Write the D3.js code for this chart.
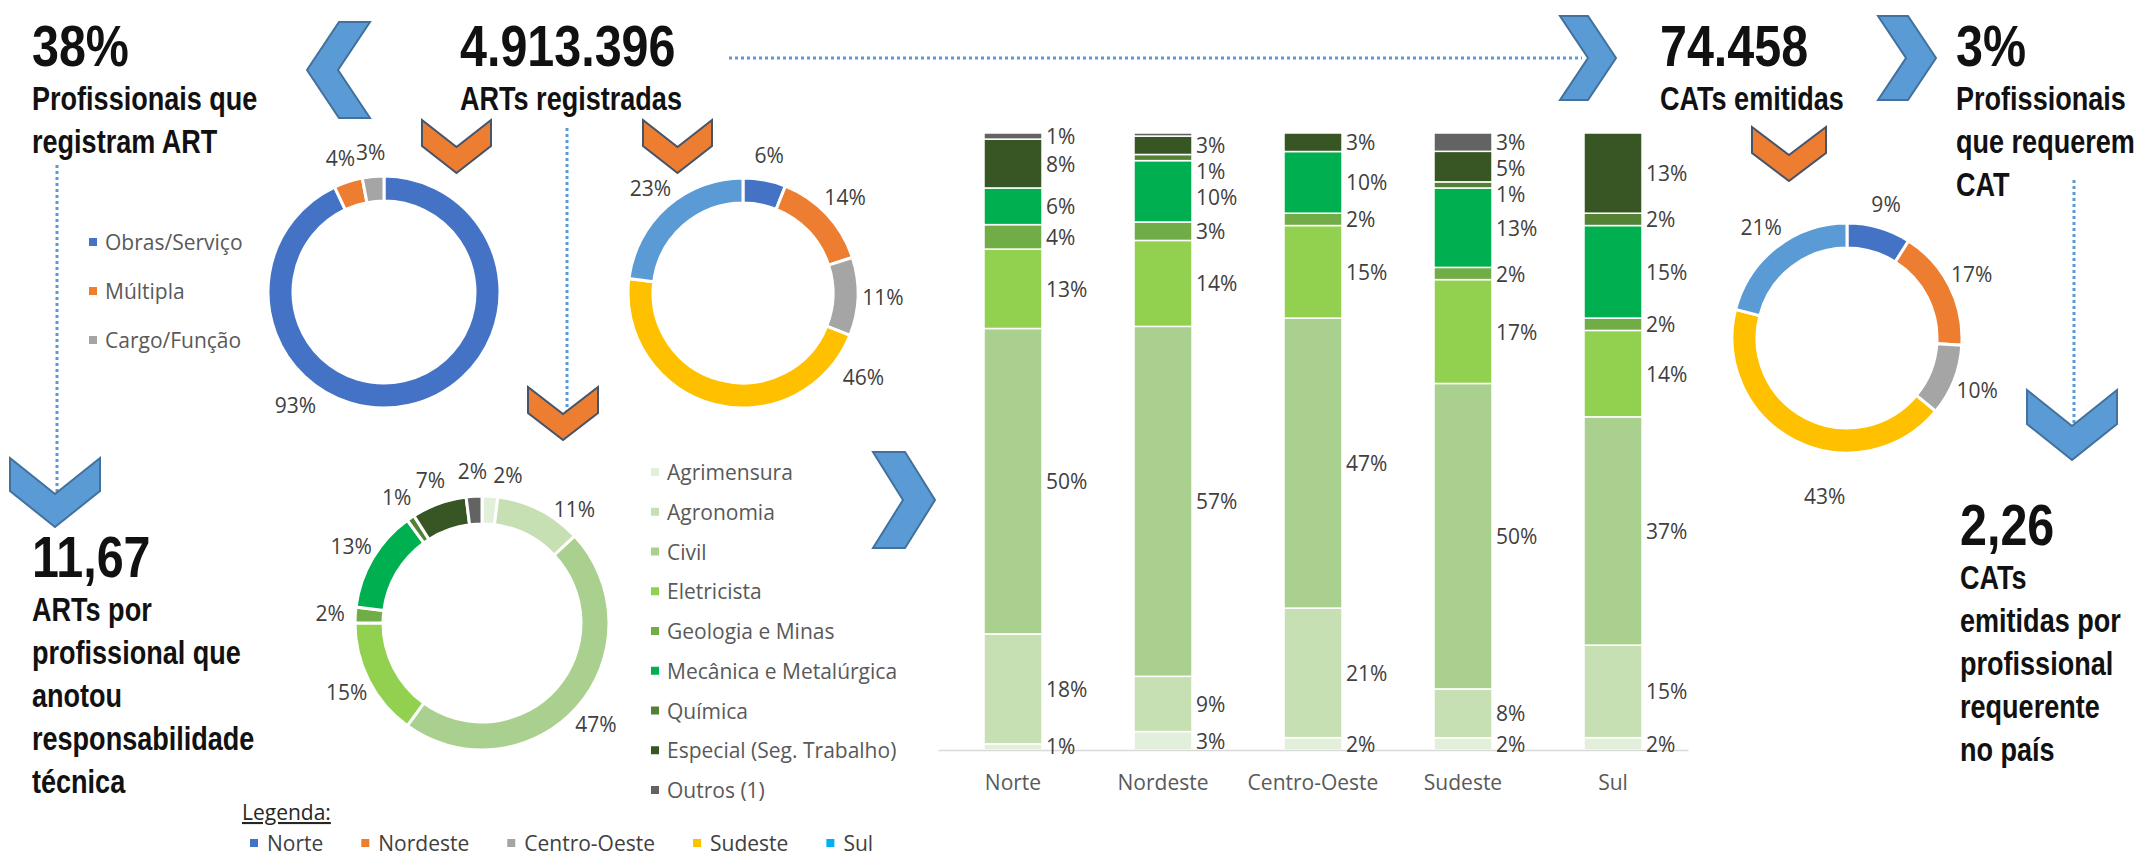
<!DOCTYPE html>
<html>
<head>
<meta charset="utf-8">
<script src="https://cdn.jsdelivr.net/npm/d3@7"></script>
<style>
  body { margin: 0; background: #fff; }
  svg { display: block; }
  .big { font-family: "Liberation Sans", Arial, sans-serif; font-weight: bold; fill: #111; }
  .lbl { font-family: "Open Sans", sans-serif; fill: #404040; }
</style>
</head>
<body>
<svg id="chart" width="2145" height="858"></svg>
<script>
// ---- data ----
const regions = ['Norte', 'Nordeste', 'Centro-Oeste', 'Sudeste', 'Sul'];
const regionColors = ['#4472C4', '#ED7D31', '#A5A5A5', '#FFC000', '#5B9BD5'];
const legendRegionColors = ['#4472C4', '#ED7D31', '#A5A5A5', '#FFC000', '#00B0F0'];

const artTypes = ['Obras/Serviço', 'Múltipla', 'Cargo/Função'];
const artTypeColors = ['#4472C4', '#ED7D31', '#A5A5A5'];
const artTypeShare = [93, 4, 3];

const artByRegion = [6, 14, 11, 46, 23];
const catByRegion = [9, 17, 10, 43, 21];

const areas = ['Agrimensura', 'Agronomia', 'Civil', 'Eletricista', 'Geologia e Minas',
  'Mecânica e Metalúrgica', 'Química', 'Especial (Seg. Trabalho)', 'Outros (1)'];
const areaColors = ['#E2EFDA', '#C6E0B4', '#A9D08E', '#92D050', '#70AD47',
  '#00B050', '#548235', '#375623', '#636363'];
const artByArea = [2, 11, 47, 15, 2, 13, 1, 7, 2];

const areaNorte = [1, 18, 50, 13, 4, 6, 0, 8, 1];
const areaNordeste = [3, 9, 57, 14, 3, 10, 1, 3, 0.5];
const areaCentroOeste = [2, 21, 47, 15, 2, 10, 0, 3, 0];
const areaSudeste = [2, 8, 50, 17, 2, 13, 1, 5, 3];
const areaSul = [2, 15, 37, 14, 2, 15, 2, 13, 0];

const headline = [
  { x: 32, y: 66, big: '38%', lines: ['Profissionais que', 'registram ART'] },
  { x: 460, y: 66, big: '4.913.396', lines: ['ARTs registradas'] },
  { x: 1660, y: 66, big: '74.458', lines: ['CATs emitidas'] },
  { x: 1956, y: 66, big: '3%', lines: ['Profissionais', 'que requerem', 'CAT'] },
  { x: 32, y: 577, big: '11,67', lines: ['ARTs por', 'profissional que', 'anotou', 'responsabilidade', 'técnica'] },
  { x: 1960, y: 545, big: '2,26', lines: ['CATs', 'emitidas por', 'profissional', 'requerente', 'no país'] }
];

const svg = d3.select('#chart');
svg.append('rect').attr('width', 2145).attr('height', 858).attr('fill', '#fff');

// ---- dotted connectors ----
const dotted = [[729, 58, 1582, 58], [57, 165, 57, 495], [567, 128, 567, 420], [2074, 180, 2074, 432]];
svg.selectAll('.dots').data(dotted).join('line')
  .attr('x1', d => d[0]).attr('y1', d => d[1]).attr('x2', d => d[2]).attr('y2', d => d[3])
  .attr('stroke', '#5B9BD5').attr('stroke-width', 3).attr('stroke-dasharray', '3 3');

// ---- chevrons ----
function chevron(x0, y0, x1, y1, dir, d) {
  const xm = (x0 + x1) / 2, ym = (y0 + y1) / 2;
  let p;
  if (dir == 'right') p = [[x0, y0], [x1 - d, y0], [x1, ym], [x1 - d, y1], [x0, y1], [x0 + d, ym]];
  else if (dir == 'left') p = [[x1, y0], [x0 + d, y0], [x0, ym], [x0 + d, y1], [x1, y1], [x1 - d, ym]];
  else p = [[x0, y0], [xm, y0 + d], [x1, y0], [x1, y1 - d], [xm, y1], [x0, y1 - d]];
  return 'M' + p.map(q => q.join(',')).join('L') + 'Z';
}
const chevrons = [
  [307, 22, 370, 118, 'left', 32, '#5B9BD5'],
  [1560, 16, 1616, 100, 'right', 28, '#5B9BD5'],
  [1878, 16, 1936, 100, 'right', 28, '#5B9BD5'],
  [873, 452, 935, 548, 'right', 30, '#5B9BD5'],
  [10, 458, 100, 527, 'down', 36, '#5B9BD5'],
  [2027, 390, 2117, 460, 'down', 36, '#5B9BD5'],
  [422, 120, 491, 173, 'down', 27, '#ED7D31'],
  [643, 120, 712, 173, 'down', 27, '#ED7D31'],
  [528, 387, 598, 440, 'down', 27, '#ED7D31'],
  [1752, 127, 1826, 181, 'down', 28, '#ED7D31']
];
svg.selectAll('.chev').data(chevrons).join('path')
  .attr('d', c => chevron(c[0], c[1], c[2], c[3], c[4], c[5]))
  .attr('fill', c => c[6])
  .attr('stroke', c => c[6] == '#ED7D31' ? '#44546A' : '#41719C')
  .attr('stroke-width', 2);

// ---- headline texts (condensed by squeezing horizontally) ----
headline.forEach(h => {
  svg.append('text').attr('class', 'big')
    .attr('transform', `translate(${h.x},${h.y}) scale(0.85,1)`)
    .style('font-size', '57px').text(h.big);
  h.lines.forEach((t, i) => {
    svg.append('text').attr('class', 'big')
      .attr('transform', `translate(${h.x},${h.y + 44 + i * 43}) scale(0.82,1)`)
      .style('font-size', '33px').text(t);
  });
});

// ---- donuts ----
function drawDonut(cx, cy, r, thick, values, colors, labelMove) {
  const g = svg.append('g').attr('transform', `translate(${cx},${cy})`);
  const pie = d3.pie().sort(null).value(d => d);
  const arcs = pie(values);
  const arc = d3.arc().innerRadius(r - thick).outerRadius(r);
  g.selectAll('path').data(arcs).join('path')
    .attr('d', arc)
    .attr('fill', (d, i) => colors[i])
    .attr('stroke', '#fff').attr('stroke-width', 3);
  g.selectAll('text').data(arcs).join('text')
    .attr('class', 'lbl')
    .style('font-size', '21px')
    .attr('text-anchor', 'middle').attr('dominant-baseline', 'central')
    .attr('transform', (d, i) => {
      let a = (d.startAngle + d.endAngle) / 2, lr = r + 25;
      if (labelMove[i]) { a = labelMove[i][0] * Math.PI / 180; lr = r + labelMove[i][1]; }
      return `translate(${Math.sin(a) * lr},${-Math.cos(a) * lr})`;
    })
    .text(d => d.data + '%');
}
drawDonut(384, 292, 116, 25, artTypeShare, artTypeColors, { 0: [218, 28] });
drawDonut(743, 293, 115, 25, artByRegion, regionColors, { 3: [125, 32] });
drawDonut(482, 623, 127, 28, artByArea, areaColors, { 0: [10, 23], 1: [39, 20] });
drawDonut(1847, 338, 115, 25, catByRegion, regionColors, { 3: [188, 45] });

// ---- small legends ----
function legendColumn(x, y0, step, names, colors) {
  const g = svg.append('g');
  names.forEach((n, i) => {
    g.append('rect').attr('x', x).attr('y', y0 + i * step - 4).attr('width', 8).attr('height', 8)
      .attr('fill', colors[i]);
    g.append('text').attr('class', 'lbl').attr('x', x + 16).attr('y', y0 + i * step)
      .attr('dominant-baseline', 'central').style('font-size', '21px').style('fill', '#595959').text(n);
  });
}
legendColumn(89, 242, 49, artTypes, artTypeColors);
legendColumn(651, 472, 39.75, areas, areaColors);

// ---- stacked bars by region ----
const areaByRegion = [areaNorte, areaNordeste, areaCentroOeste, areaSudeste, areaSul];
const table = regions.map((r, i) => {
  const row = { region: r };
  areas.forEach((a, j) => row[a] = areaByRegion[i][j]);
  return row;
});
const stack = d3.stack().keys(areas).offset(d3.stackOffsetExpand);
const series = stack(table);

const x = d3.scaleBand().domain(regions).range([938, 1688]).padding(0);
const y = d3.scaleLinear().domain([0, 1]).range([750, 133]);
const barW = 58;
const barOff = (x.bandwidth() - barW) / 2;

const gBars = svg.append('g');
gBars.selectAll('g').data(series).join('g')
  .attr('fill', (s, i) => areaColors[i])
  .selectAll('rect').data(s => s).join('rect')
  .attr('x', d => x(d.data.region) + barOff)
  .attr('width', barW)
  .attr('y', d => y(d[1]))
  .attr('height', d => y(d[0]) - y(d[1]))
  .attr('stroke', '#fff').attr('stroke-width', 1.5);

const gx = svg.append('g').attr('transform', 'translate(0,750)')
  .call(d3.axisBottom(x).tickSize(0).tickPadding(25));
gx.select('.domain').attr('stroke', '#D9D9D9').attr('stroke-width', 1.5);
gx.selectAll('text').attr('class', 'lbl').style('font-size', '21px').style('fill', '#595959');

// bar labels: segment centres, pushed apart where they collide
regions.forEach((r, ri) => {
  let labs = [];
  series.forEach((s, si) => {
    const v = areaByRegion[ri][si];
    if (v < 0.75) return;
    const d = s[ri];
    labs.push({ text: Math.round(v) + '%', y: (y(d[0]) + y(d[1])) / 2 });
  });
  labs.sort((a, b) => a.y - b.y);
  const gap = 26;
  for (let i = 1; i < labs.length; i++) labs[i].y = Math.max(labs[i].y, labs[i - 1].y + gap);
  labs[labs.length - 1].y = Math.min(labs[labs.length - 1].y, 746);
  for (let i = labs.length - 2; i >= 0; i--) labs[i].y = Math.min(labs[i].y, labs[i + 1].y - gap);
  svg.append('g').selectAll('text').data(labs).join('text')
    .attr('class', 'lbl').style('font-size', '21px')
    .attr('x', x(r) + barOff + barW + 4)
    .attr('y', d => d.y).attr('dominant-baseline', 'central')
    .text(d => d.text);
});

// ---- region legend ----
svg.append('text').attr('class', 'lbl').attr('x', 242).attr('y', 820)
  .style('font-size', '21px').style('text-decoration', 'underline').style('fill', '#262626')
  .text('Legenda:');
let lx = 250;
regions.forEach((r, i) => {
  svg.append('rect').attr('x', lx).attr('y', 839).attr('width', 8).attr('height', 8)
    .attr('fill', legendRegionColors[i]);
  const t = svg.append('text').attr('class', 'lbl').attr('x', lx + 17).attr('y', 843)
    .attr('dominant-baseline', 'central').style('font-size', '21px').style('fill', '#404040').text(r);
  lx += 17 + t.node().getComputedTextLength() + 38;
});
</script>
</body>
</html>
